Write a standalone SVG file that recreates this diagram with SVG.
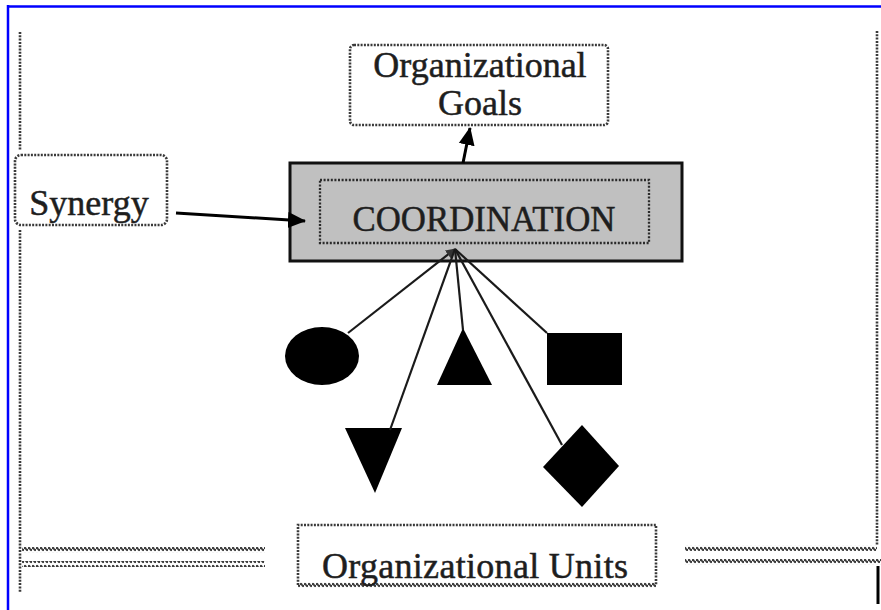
<svg xmlns="http://www.w3.org/2000/svg" width="881" height="610" viewBox="0 0 881 610">
<style>
.dot{fill:none;stroke:#3a3a3a;stroke-width:2.6;stroke-dasharray:2 1.3}
.dotin{fill:none;stroke:#2a2a2a;stroke-width:2.3;stroke-dasharray:2 1.6}
.lbl{font-family:"Liberation Serif","Times New Roman",serif;font-size:36px;fill:#1e1e1e;stroke:#1e1e1e;stroke-width:0.5;text-anchor:middle}
.shape{fill:#000}
.conn{stroke:#1a1a1a;stroke-width:2.2;fill:none}
.arr{stroke:#000;stroke-width:3;fill:none}
</style>
<defs>
<marker id="head" markerUnits="userSpaceOnUse" markerWidth="18" markerHeight="18" refX="17" refY="9" orient="auto" viewBox="0 0 18 18">
<path d="M0,1 L18,9 L0,17 z" fill="#000"/>
</marker>
<marker id="small" markerUnits="userSpaceOnUse" markerWidth="10" markerHeight="10" refX="9" refY="5" orient="auto" viewBox="0 0 10 10">
<path d="M0,0 L10,5 L0,10 z" fill="#333"/>
</marker>
<pattern id="wave" patternUnits="userSpaceOnUse" width="4" height="6">
<path d="M0,3 Q1,0.6 2,3 T4,3" fill="none" stroke="#3a3a3a" stroke-width="1.9"/>
</pattern>
</defs>
<rect width="881" height="610" fill="#fff"/>
<g id="frame">
<line x1="8" y1="5" x2="8" y2="610" stroke="#0000ff" stroke-width="2.5"/>
<line x1="7" y1="6.5" x2="881" y2="6.5" stroke="#0000ff" stroke-width="2.5"/>
<line class="dot" x1="20" y1="32" x2="20" y2="150"/>
<line class="dot" x1="20" y1="230" x2="20" y2="592"/>
<line class="dot" x1="877" y1="31" x2="877" y2="545"/>
<rect x="22" y="547" width="243" height="6" fill="url(#wave)"/>
<rect x="22" y="561" width="243" height="6" fill="url(#wave)"/>
<rect x="685" y="545" width="192" height="6" fill="url(#wave)"/>
<rect x="685" y="559" width="196" height="6" fill="url(#wave)"/>
<line x1="878" y1="566" x2="878" y2="604" stroke="#000" stroke-width="3"/>
</g>
<g id="goals">
<rect class="dot" x="350" y="45" width="258" height="80" rx="4"/>
<text class="lbl" x="480" y="77">Organizational</text>
<text class="lbl" x="480" y="115">Goals</text>
</g>
<g id="synergy">
<rect class="dot" x="15" y="155" width="152" height="70" rx="6"/>
<text class="lbl" x="89" y="215">Synergy</text>
</g>
<g id="coordination">
<rect x="290" y="163" width="392" height="98" fill="#c0c0c0" stroke="#111" stroke-width="3"/>
<rect class="dotin" x="320" y="180" width="329" height="63"/>
<text class="lbl" x="484" y="231" font-size="35" textLength="263" lengthAdjust="spacingAndGlyphs">COORDINATION</text>
</g>
<g id="units">
<path class="dot" d="M298,585 V525 H656 V585"/>
<rect x="298" y="582" width="358" height="6" fill="url(#wave)"/>
<text class="lbl" x="475" y="578" textLength="306" lengthAdjust="spacing">Organizational Units</text>
</g>
<g id="circle"><ellipse class="shape" cx="322" cy="356" rx="37" ry="29"/></g>
<g id="triangle-up"><polygon class="shape" points="463,328 492,385 437,385"/></g>
<g id="square"><rect class="shape" x="547" y="333" width="75" height="52"/></g>
<g id="triangle-down"><polygon class="shape" points="345,428 402,428 375,493"/></g>
<g id="diamond"><polygon class="shape" points="582,425 619,466 582,507 543,467"/></g>
<g id="connectors">
<line class="arr" x1="176" y1="213" x2="305" y2="221" marker-end="url(#head)"/>
<line class="arr" x1="463" y1="163" x2="470" y2="128" marker-end="url(#head)"/>
<line class="conn" x1="348" y1="333" x2="455" y2="249" marker-end="url(#small)"/>
<line class="conn" x1="390" y1="430" x2="455" y2="249"/>
<line class="conn" x1="463" y1="330" x2="455" y2="249"/>
<line class="conn" x1="547" y1="333" x2="455" y2="249"/>
<line class="conn" x1="562" y1="445" x2="455" y2="249"/>
</g>
</svg>
